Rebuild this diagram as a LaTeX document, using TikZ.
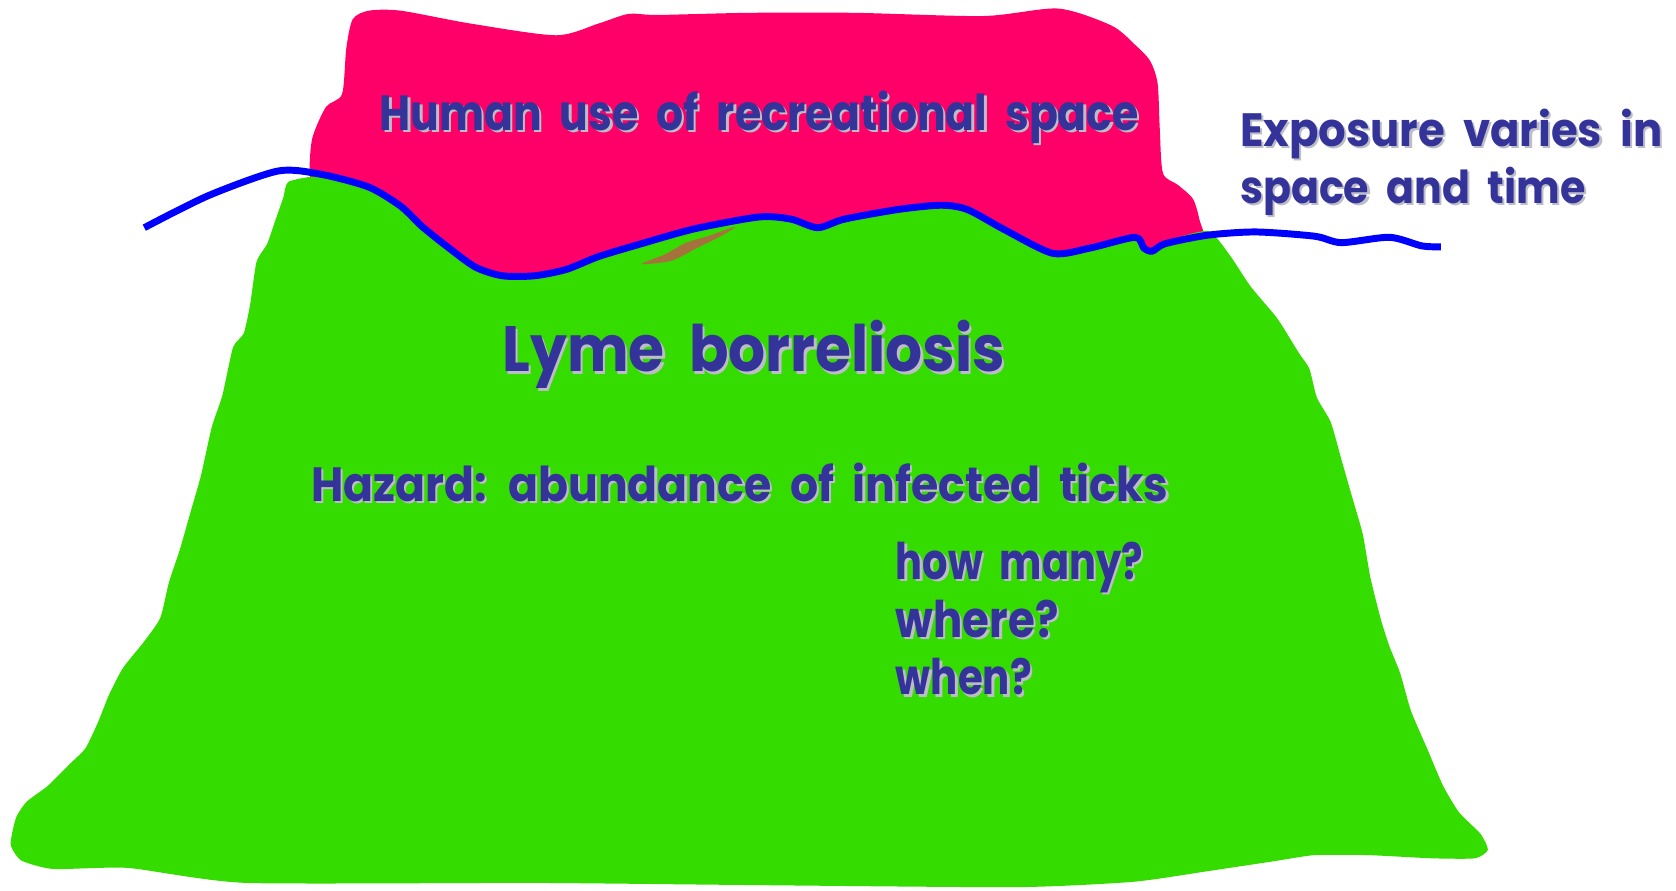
\documentclass[tikz,border=0pt]{standalone}
\usepackage{fontspec}
\usepackage{graphicx}
\newfontfamily\cfont{Poppins}
\definecolor{pinkblob}{HTML}{FF0068}
\definecolor{greenhill}{HTML}{35DC00}
\definecolor{lineblue}{HTML}{0000FF}
\definecolor{txtblue}{HTML}{333399}
\definecolor{shgray}{HTML}{BDBDC8}
\definecolor{streak}{HTML}{A5713C}
\tikzset{
  lbl/.style={inner sep=0pt, anchor=base west, text=txtblue},
  lblsh/.style={inner sep=0pt, anchor=base west, text=shgray},
  blueline/.style={draw=lineblue, line width=6.5pt, line join=round},
}
% #1 name, #2 x, #3 baseline y, #4 width, #5 height, #6 text
\newcommand\shlabel[6]{%
  \node[lblsh] (#1-sh) at (#2+2.2,#3+2.2) {\resizebox{#4pt}{#5pt}{\cfont\bfseries\spaceskip=0.42em\relax #6}};
  \node[lbl] (#1) at (#2,#3) {\resizebox{#4pt}{#5pt}{\cfont\bfseries\spaceskip=0.42em\relax #6}};
}
\begin{document}
\begin{tikzpicture}[x=1pt,y=-1pt]
\useasboundingbox (0,0) rectangle (1568,833);
\fill[white] (0,0) rectangle (1568,833);
% pink blob
\fill[pinkblob] plot[smooth cycle, tension=0.45] coordinates {
 (330,18) (345,10) (375,10) (440,22) (520,33) (560,22) (588,13) (615,14) (700,12) (800,12) (920,15) (990,8) (1040,24) (1062,42) (1076,57) (1083,78) (1085,120) (1088,162) (1102,173) (1116,186) (1122,205) (1125,230) (1070,234) (1000,238) (900,218) (800,212) (700,212) (600,236) (520,258) (470,258) (420,236) (380,200) (345,178) (300,168) (290,165) (292,130) (305,100) (320,88) (324,45)};
% green hill
\fill[greenhill] plot[smooth cycle, tension=0.35] coordinates {
 (270,170) (300,165) (345,177) (375,195) (400,215) (430,240) (460,255) (490,258) (530,253) (560,243) (600,231) (650,216) (710,205) (740,207) (765,214) (790,206) (850,196) (880,194) (905,198) (935,212) (985,238) (1020,233) (1062,224) (1072,234) (1090,226) (1130,216) (1150,238) (1170,268) (1195,298) (1215,330) (1225,345) (1232,372) (1245,395) (1255,430) (1265,465) (1275,500) (1282,540) (1292,580) (1300,605) (1310,630) (1320,665) (1335,700) (1350,735) (1365,760) (1385,780) (1392,795) (1380,803) (1340,803) (1280,800) (1230,800) (1190,806) (1130,815) (1060,825) (950,830) (700,828) (500,826) (230,826) (120,812) (50,813) (20,805) (10,790) (15,765) (25,750) (45,735) (65,715) (80,700) (92,675) (102,650) (115,625) (135,600) (150,578) (158,545) (168,515) (178,480) (188,445) (198,400) (208,370) (218,325) (228,312) (234,285) (240,245) (250,228) (258,205) (265,185)};
% brown streak
\fill[streak] plot[smooth cycle, tension=0.4] coordinates {
 (600,247) (622,238) (642,227) (662,221) (688,212) (676,220) (652,232) (628,244)};
% blue line
\draw[blueline] plot[smooth, tension=0.45] coordinates {
 (135,213) (195,183) (260,160) (300,163) (345,175) (375,193) (395,212) (420,232) (445,250) (470,258) (500,258) (530,252) (560,240) (600,228) (650,214) (710,203) (740,205) (765,213) (790,205) (840,196) (880,192) (905,196) (940,215) (985,237) (1020,232) (1062,222) (1070,232) (1078,235) (1090,228) (1130,220) (1175,217) (1230,221) (1255,227) (1300,222) (1330,230) (1348,231)};
% texts
\shlabel{human}{355}{122}{710}{37}{Human use of recreational space}
\shlabel{expo1}{1160}{137}{395}{35}{Exposure varies in}
\shlabel{expo2}{1160}{190}{323}{34}{space and time}
\shlabel{lyme}{470}{348}{470}{48}{Lyme borreliosis}
\shlabel{hazard}{291}{469}{802}{36}{Hazard: abundance of infected ticks}
\shlabel{howmany}{838}{542}{231}{35}{how many?}
\shlabel{where}{838}{596}{152}{35}{where?}
\shlabel{when}{838}{650}{127}{34}{when?}
\end{tikzpicture}
\end{document}
